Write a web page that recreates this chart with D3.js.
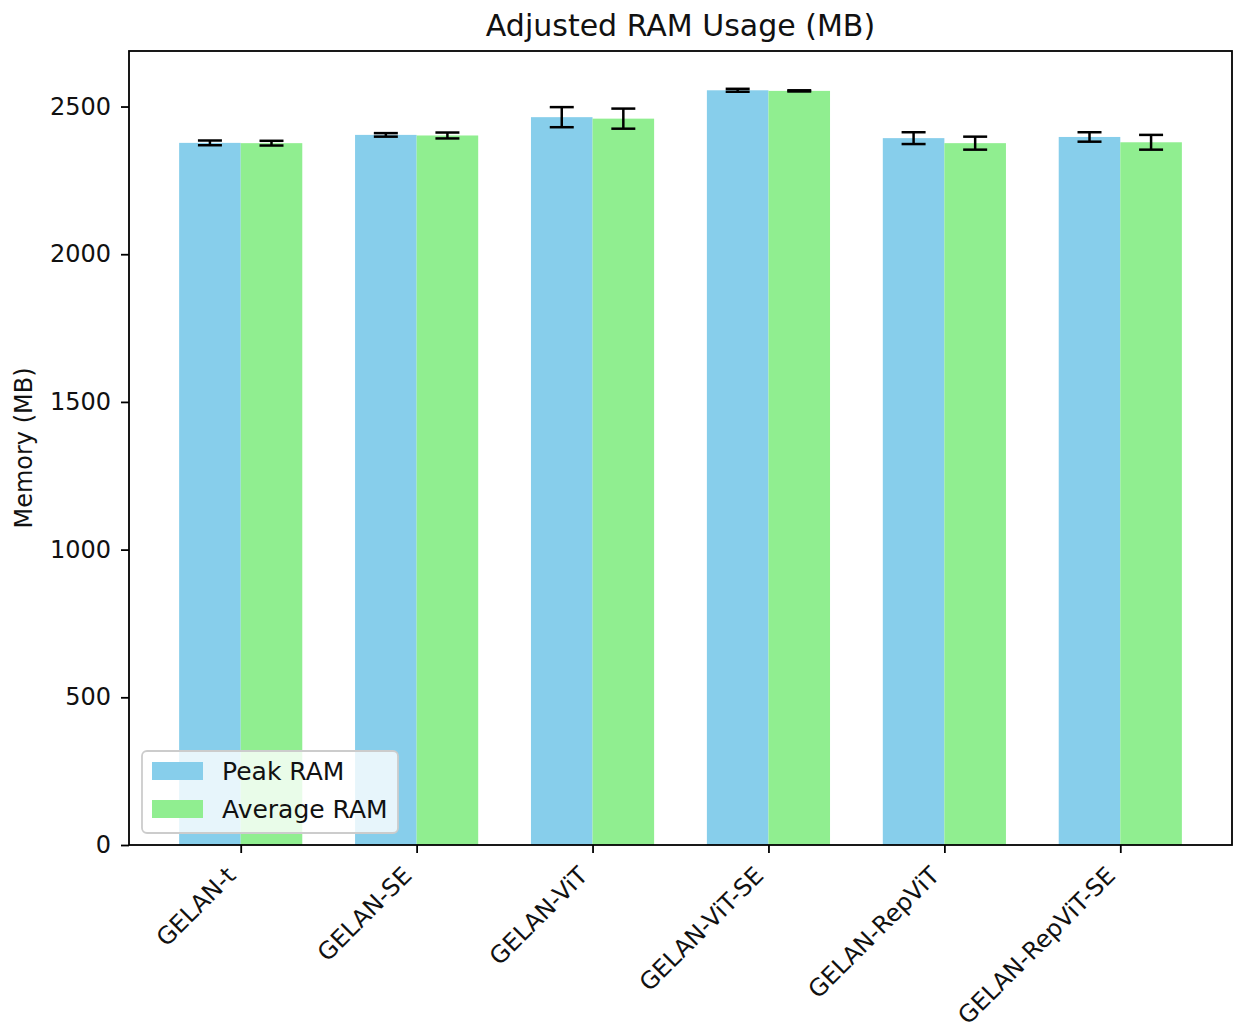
<!DOCTYPE html>
<html>
<head>
<meta charset="utf-8">
<script src="https://cdn.jsdelivr.net/npm/d3@7"></script>
<style>
  body { margin: 0; background: #fff; }
  text { font-family: "DejaVu Sans", sans-serif; fill: #111; }
</style>
</head>
<body>
<div id="plot"></div>
<script>
let models = ['GELAN-t', 'GELAN-SE', 'GELAN-ViT', 'GELAN-ViT-SE', 'GELAN-RepViT', 'GELAN-RepViT-SE'];
let peakRam = [2377, 2404, 2464, 2555, 2393, 2397];
let peakErr = [8, 6, 34, 5, 20, 16];
let avgRam = [2376, 2402, 2459, 2553, 2376, 2379];
let avgErr = [8, 10, 34, 2, 22, 25];
let yTicks = [0, 500, 1000, 1500, 2000, 2500];

let svgWidth = 1233;
let svgHeight = 1030;
let margin = {top: 51, right: 1, bottom: 185, left: 129};
let width = svgWidth - margin.left - margin.right;
let height = svgHeight - margin.top - margin.bottom;
let barW = 0.35;

let svg = d3.select('#plot')
    .append('svg')
        .attr('width', svgWidth)
        .attr('height', svgHeight);

let g = svg.append('g')
    .attr('transform', `translate(${margin.left}, ${margin.top})`);

// matplotlib style margins: 5% padding around bar extent
let lo = -barW, hi = models.length - 1 + barW;
let pad = (hi - lo) * 0.05;
let x = d3.scaleLinear()
    .domain([lo - pad, hi + pad])
    .range([0, width]);

let yMax = d3.max(peakRam.map((v, i) => v + peakErr[i]).concat(avgRam.map((v, i) => v + avgErr[i]))) * 1.05;
let y = d3.scaleLinear()
    .domain([0, yMax])
    .range([height, 0]);

let series = [
    {name: 'Peak RAM', vals: peakRam, err: peakErr, off: -barW / 2, color: '#87ceeb'},
    {name: 'Average RAM', vals: avgRam, err: avgErr, off: barW / 2, color: '#90ee90'}
];

series.forEach(s => {
    g.append('g').selectAll('rect')
        .data(s.vals)
        .join('rect')
            .attr('x', (d, i) => x(i + s.off - barW / 2))
            .attr('width', x(barW) - x(0))
            .attr('y', d => y(d))
            .attr('height', d => height - y(d))
            .attr('fill', s.color);
});

// error bars
series.forEach(s => {
    let eg = g.append('g').attr('stroke', '#000').attr('stroke-width', 2.5);
    s.vals.forEach((v, i) => {
        let cx = x(i + s.off);
        eg.append('line')
            .attr('x1', cx).attr('x2', cx)
            .attr('y1', y(v - s.err[i])).attr('y2', y(v + s.err[i]));
        [v - s.err[i], v + s.err[i]].forEach(e => {
            eg.append('line')
                .attr('x1', cx - 12).attr('x2', cx + 12)
                .attr('y1', y(e)).attr('y2', y(e));
        });
    });
});

// axes
let xAxis = d3.axisBottom(x)
    .tickValues(d3.range(models.length))
    .tickFormat(i => models[i])
    .tickSize(8);
let yAxis = d3.axisLeft(y)
    .tickValues(yTicks)
    .tickFormat(d3.format('d'))
    .tickSize(8)
    .tickPadding(10);

let xg = g.append('g')
    .attr('transform', `translate(0,${height})`)
    .call(xAxis);
xg.select('.domain').remove();
xg.selectAll('line').attr('stroke-width', 1.8);
xg.selectAll('text')
    .style('font-size', '24px')
    .attr('text-anchor', 'end')
    .attr('y', 0)
    .attr('dy', null)
    .attr('transform', 'translate(-4,32) rotate(-45)');

let yg = g.append('g').call(yAxis);
yg.select('.domain').remove();
yg.selectAll('line').attr('stroke-width', 1.8);
yg.selectAll('text').style('font-size', '24px');

// frame
g.append('rect')
    .attr('width', width)
    .attr('height', height)
    .attr('fill', 'none')
    .attr('stroke', '#000')
    .attr('stroke-width', 1.8);

// title + y label
svg.append('text')
    .attr('x', margin.left + width / 2)
    .attr('y', 36)
    .attr('text-anchor', 'middle')
    .style('font-size', '30px')
    .text('Adjusted RAM Usage (MB)');

svg.append('text')
    .attr('transform', `translate(32, ${margin.top + height / 2}) rotate(-90)`)
    .attr('text-anchor', 'middle')
    .style('font-size', '24px')
    .text('Memory (MB)');

// legend
let lg = g.append('g').attr('transform', `translate(13, ${height - 94})`);
lg.append('rect')
    .attr('width', 256).attr('height', 82)
    .attr('rx', 5)
    .attr('fill', 'rgba(255,255,255,0.8)')
    .attr('stroke', '#ccc')
    .attr('stroke-width', 1.8);
series.forEach((s, i) => {
    lg.append('rect')
        .attr('x', 10).attr('y', 11 + i * 38)
        .attr('width', 51).attr('height', 18)
        .attr('fill', s.color);
    lg.append('text')
        .attr('x', 80).attr('y', 29 + i * 38)
        .style('font-size', '25px')
        .text(s.name);
});
</script>
</body>
</html>
